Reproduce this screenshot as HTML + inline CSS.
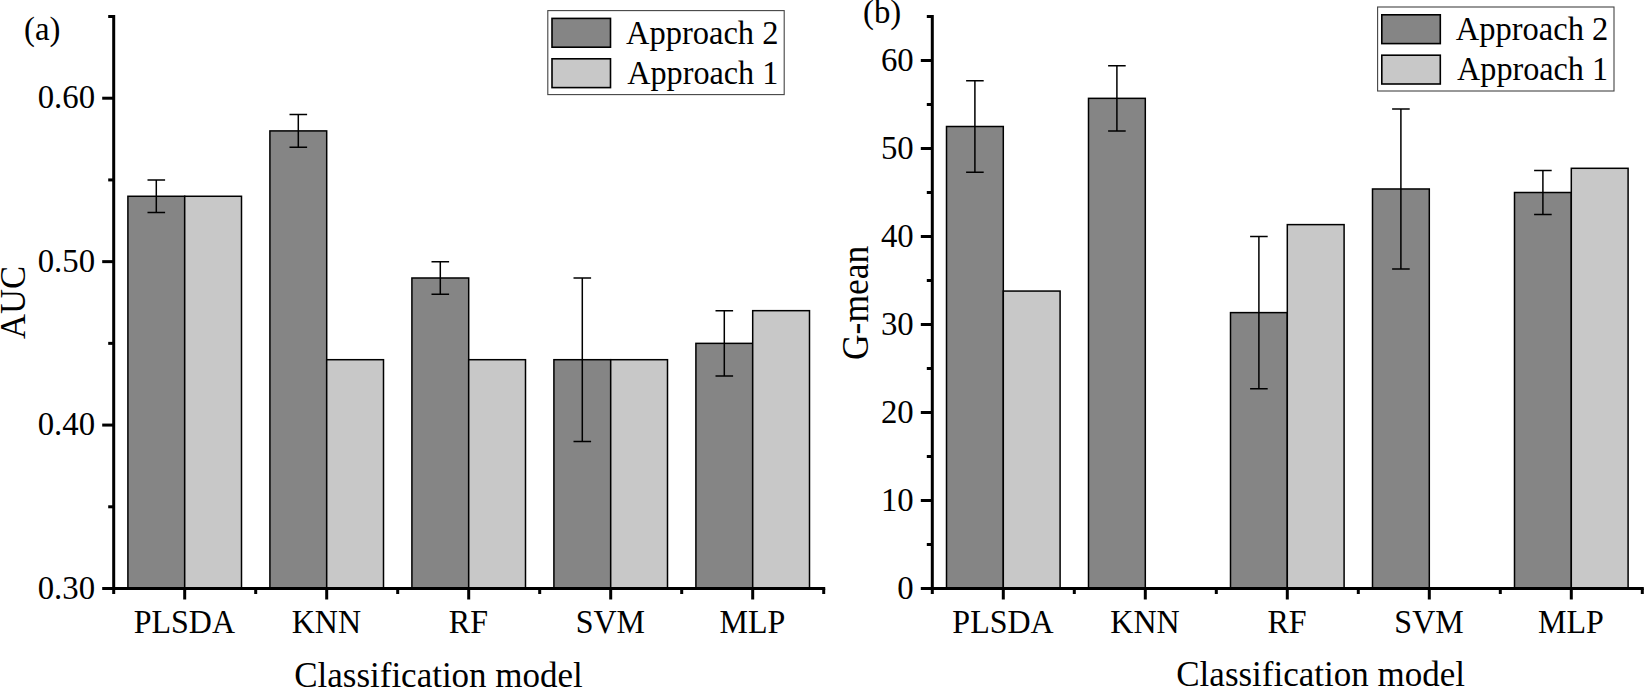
<!DOCTYPE html>
<html lang="en"><head><meta charset="utf-8"><title>Classification model comparison</title>
<style>
html,body{margin:0;padding:0;background:#fff;}
body{width:1644px;height:688px;overflow:hidden;}
svg{display:block;font-family:"Liberation Serif", "Times New Roman", serif;fill:#000;}
</style></head><body>
<svg width="1644" height="688" viewBox="0 0 1644 688">
<rect width="1644" height="688" fill="#fff" stroke="none"/>
<g>
<rect x="127.90" y="196.27" width="56.80" height="392.23" fill="#858585" stroke="#000" stroke-width="1.5"/>
<rect x="184.70" y="196.27" width="56.80" height="392.23" fill="#c8c8c8" stroke="#000" stroke-width="1.5"/>
<path d="M156.30 179.93V212.61M147.50 179.93h17.6M147.50 212.61h17.6" fill="none" stroke="#000" stroke-width="1.5"/>
<rect x="269.90" y="130.90" width="56.80" height="457.60" fill="#858585" stroke="#000" stroke-width="1.5"/>
<rect x="326.70" y="359.70" width="56.80" height="228.80" fill="#c8c8c8" stroke="#000" stroke-width="1.5"/>
<path d="M298.30 114.56V147.24M289.50 114.56h17.6M289.50 147.24h17.6" fill="none" stroke="#000" stroke-width="1.5"/>
<rect x="411.90" y="277.99" width="56.80" height="310.51" fill="#858585" stroke="#000" stroke-width="1.5"/>
<rect x="468.70" y="359.70" width="56.80" height="228.80" fill="#c8c8c8" stroke="#000" stroke-width="1.5"/>
<path d="M440.30 261.64V294.33M431.50 261.64h17.6M431.50 294.33h17.6" fill="none" stroke="#000" stroke-width="1.5"/>
<rect x="553.90" y="359.70" width="56.80" height="228.80" fill="#858585" stroke="#000" stroke-width="1.5"/>
<rect x="610.70" y="359.70" width="56.80" height="228.80" fill="#c8c8c8" stroke="#000" stroke-width="1.5"/>
<path d="M582.30 277.99V441.41M573.50 277.99h17.6M573.50 441.41h17.6" fill="none" stroke="#000" stroke-width="1.5"/>
<rect x="695.90" y="343.36" width="56.80" height="245.14" fill="#858585" stroke="#000" stroke-width="1.5"/>
<rect x="752.70" y="310.67" width="56.80" height="277.83" fill="#c8c8c8" stroke="#000" stroke-width="1.5"/>
<path d="M724.30 310.67V376.04M715.50 310.67h17.6M715.50 376.04h17.6" fill="none" stroke="#000" stroke-width="1.5"/>
<path d="M113.70 15.00V594.00M102.20 588.50H825.20" fill="none" stroke="#000" stroke-width="3"/>
<text transform="translate(95.10 598.70) scale(1 1.03)" text-anchor="end" font-size="32.8">0.30</text>
<path d="M113.70 425.07h-11.5" stroke="#000" stroke-width="3"/>
<text transform="translate(95.10 435.27) scale(1 1.03)" text-anchor="end" font-size="32.8">0.40</text>
<path d="M113.70 261.64h-11.5" stroke="#000" stroke-width="3"/>
<text transform="translate(95.10 271.84) scale(1 1.03)" text-anchor="end" font-size="32.8">0.50</text>
<path d="M113.70 98.21h-11.5" stroke="#000" stroke-width="3"/>
<text transform="translate(95.10 108.41) scale(1 1.03)" text-anchor="end" font-size="32.8">0.60</text>
<path d="M113.70 506.79h-5.5" stroke="#000" stroke-width="3"/>
<path d="M113.70 343.36h-5.5" stroke="#000" stroke-width="3"/>
<path d="M113.70 179.93h-5.5" stroke="#000" stroke-width="3"/>
<path d="M113.70 16.50h-5.5" stroke="#000" stroke-width="3"/>
<path d="M184.70 588.50v11" stroke="#000" stroke-width="3"/>
<path d="M255.70 588.50v5.5" stroke="#000" stroke-width="3"/>
<text transform="translate(184.40 633.20) scale(1 1.04)" text-anchor="middle" font-size="32">PLSDA</text>
<path d="M326.70 588.50v11" stroke="#000" stroke-width="3"/>
<path d="M397.70 588.50v5.5" stroke="#000" stroke-width="3"/>
<text transform="translate(326.40 633.20) scale(1 1.04)" text-anchor="middle" font-size="32">KNN</text>
<path d="M468.70 588.50v11" stroke="#000" stroke-width="3"/>
<path d="M539.70 588.50v5.5" stroke="#000" stroke-width="3"/>
<text transform="translate(468.40 633.20) scale(1 1.04)" text-anchor="middle" font-size="32">RF</text>
<path d="M610.70 588.50v11" stroke="#000" stroke-width="3"/>
<path d="M681.70 588.50v5.5" stroke="#000" stroke-width="3"/>
<text transform="translate(610.40 633.20) scale(1 1.04)" text-anchor="middle" font-size="32">SVM</text>
<path d="M752.70 588.50v11" stroke="#000" stroke-width="3"/>
<path d="M823.70 588.50v5.5" stroke="#000" stroke-width="3"/>
<text transform="translate(752.40 633.20) scale(1 1.04)" text-anchor="middle" font-size="32">MLP</text>
<text transform="translate(438.50 686.70) scale(1 1.02)" text-anchor="middle" font-size="35.0">Classification model</text>
<text transform="translate(25.30 302.50) rotate(-90) scale(1 1.04)" text-anchor="middle" font-size="34.6">AUC</text>
<text transform="translate(24.10 40.10) scale(0.985 1.03)" text-anchor="start" font-size="33.3">(a)</text>
<rect x="547.80" y="10.60" width="236.4" height="84" fill="#fff" stroke="#444" stroke-width="1.1"/>
<rect x="552.00" y="18.40" width="58.5" height="28.8" fill="#858585" stroke="#000" stroke-width="1.6"/>
<text transform="translate(626.00 43.80) scale(1.0 1.02)" text-anchor="start" font-size="32.5">Approach 2</text>
<rect x="552.00" y="58.80" width="58.5" height="28.8" fill="#c8c8c8" stroke="#000" stroke-width="1.6"/>
<text transform="translate(627.30 83.80) scale(0.99 1.02)" text-anchor="start" font-size="32.5">Approach 1</text>
</g>
<g>
<rect x="946.50" y="126.50" width="56.80" height="462.00" fill="#858585" stroke="#000" stroke-width="1.5"/>
<rect x="1003.30" y="291.06" width="56.80" height="297.44" fill="#c8c8c8" stroke="#000" stroke-width="1.5"/>
<path d="M974.90 80.74V172.26M966.10 80.74h17.6M966.10 172.26h17.6" fill="none" stroke="#000" stroke-width="1.5"/>
<rect x="1088.50" y="98.34" width="56.80" height="490.16" fill="#858585" stroke="#000" stroke-width="1.5"/>
<path d="M1116.90 65.78V130.90M1108.10 65.78h17.6M1108.10 130.90h17.6" fill="none" stroke="#000" stroke-width="1.5"/>
<rect x="1230.50" y="312.62" width="56.80" height="275.88" fill="#858585" stroke="#000" stroke-width="1.5"/>
<rect x="1287.30" y="224.62" width="56.80" height="363.88" fill="#c8c8c8" stroke="#000" stroke-width="1.5"/>
<path d="M1258.90 236.50V388.74M1250.10 236.50h17.6M1250.10 388.74h17.6" fill="none" stroke="#000" stroke-width="1.5"/>
<rect x="1372.50" y="188.98" width="56.80" height="399.52" fill="#858585" stroke="#000" stroke-width="1.5"/>
<path d="M1400.90 108.90V269.06M1392.10 108.90h17.6M1392.10 269.06h17.6" fill="none" stroke="#000" stroke-width="1.5"/>
<rect x="1514.50" y="192.50" width="56.80" height="396.00" fill="#858585" stroke="#000" stroke-width="1.5"/>
<rect x="1571.30" y="168.30" width="56.80" height="420.20" fill="#c8c8c8" stroke="#000" stroke-width="1.5"/>
<path d="M1542.90 170.50V214.50M1534.10 170.50h17.6M1534.10 214.50h17.6" fill="none" stroke="#000" stroke-width="1.5"/>
<path d="M932.30 15.00V594.00M920.80 588.50H1643.80" fill="none" stroke="#000" stroke-width="3"/>
<text transform="translate(913.70 598.70) scale(1 1.03)" text-anchor="end" font-size="32.8">0</text>
<path d="M932.30 500.50h-11.5" stroke="#000" stroke-width="3"/>
<text transform="translate(913.70 510.70) scale(1 1.03)" text-anchor="end" font-size="32.8">10</text>
<path d="M932.30 412.50h-11.5" stroke="#000" stroke-width="3"/>
<text transform="translate(913.70 422.70) scale(1 1.03)" text-anchor="end" font-size="32.8">20</text>
<path d="M932.30 324.50h-11.5" stroke="#000" stroke-width="3"/>
<text transform="translate(913.70 334.70) scale(1 1.03)" text-anchor="end" font-size="32.8">30</text>
<path d="M932.30 236.50h-11.5" stroke="#000" stroke-width="3"/>
<text transform="translate(913.70 246.70) scale(1 1.03)" text-anchor="end" font-size="32.8">40</text>
<path d="M932.30 148.50h-11.5" stroke="#000" stroke-width="3"/>
<text transform="translate(913.70 158.70) scale(1 1.03)" text-anchor="end" font-size="32.8">50</text>
<path d="M932.30 60.50h-11.5" stroke="#000" stroke-width="3"/>
<text transform="translate(913.70 70.70) scale(1 1.03)" text-anchor="end" font-size="32.8">60</text>
<path d="M932.30 544.50h-5.5" stroke="#000" stroke-width="3"/>
<path d="M932.30 456.50h-5.5" stroke="#000" stroke-width="3"/>
<path d="M932.30 368.50h-5.5" stroke="#000" stroke-width="3"/>
<path d="M932.30 280.50h-5.5" stroke="#000" stroke-width="3"/>
<path d="M932.30 192.50h-5.5" stroke="#000" stroke-width="3"/>
<path d="M932.30 104.50h-5.5" stroke="#000" stroke-width="3"/>
<path d="M932.30 16.50h-5.5" stroke="#000" stroke-width="3"/>
<path d="M1003.30 588.50v11" stroke="#000" stroke-width="3"/>
<path d="M1074.30 588.50v5.5" stroke="#000" stroke-width="3"/>
<text transform="translate(1003.00 633.20) scale(1 1.04)" text-anchor="middle" font-size="32">PLSDA</text>
<path d="M1145.30 588.50v11" stroke="#000" stroke-width="3"/>
<path d="M1216.30 588.50v5.5" stroke="#000" stroke-width="3"/>
<text transform="translate(1145.00 633.20) scale(1 1.04)" text-anchor="middle" font-size="32">KNN</text>
<path d="M1287.30 588.50v11" stroke="#000" stroke-width="3"/>
<path d="M1358.30 588.50v5.5" stroke="#000" stroke-width="3"/>
<text transform="translate(1287.00 633.20) scale(1 1.04)" text-anchor="middle" font-size="32">RF</text>
<path d="M1429.30 588.50v11" stroke="#000" stroke-width="3"/>
<path d="M1500.30 588.50v5.5" stroke="#000" stroke-width="3"/>
<text transform="translate(1429.00 633.20) scale(1 1.04)" text-anchor="middle" font-size="32">SVM</text>
<path d="M1571.30 588.50v11" stroke="#000" stroke-width="3"/>
<path d="M1642.30 588.50v5.5" stroke="#000" stroke-width="3"/>
<text transform="translate(1571.00 633.20) scale(1 1.04)" text-anchor="middle" font-size="32">MLP</text>
<text transform="translate(1320.60 685.60) scale(1 1.02)" text-anchor="middle" font-size="35.0">Classification model</text>
<text transform="translate(867.60 302.90) rotate(-90) scale(1 1.04)" text-anchor="middle" font-size="35.5">G-mean</text>
<text transform="translate(863.00 22.70) scale(0.985 1.03)" text-anchor="start" font-size="33.3">(b)</text>
<rect x="1377.60" y="7.00" width="236.4" height="84" fill="#fff" stroke="#444" stroke-width="1.1"/>
<rect x="1381.80" y="14.80" width="58.5" height="28.8" fill="#858585" stroke="#000" stroke-width="1.6"/>
<text transform="translate(1455.80 40.20) scale(1.0 1.02)" text-anchor="start" font-size="32.5">Approach 2</text>
<rect x="1381.80" y="55.20" width="58.5" height="28.8" fill="#c8c8c8" stroke="#000" stroke-width="1.6"/>
<text transform="translate(1457.10 80.20) scale(0.99 1.02)" text-anchor="start" font-size="32.5">Approach 1</text>
</g>
</svg>
</body></html>
